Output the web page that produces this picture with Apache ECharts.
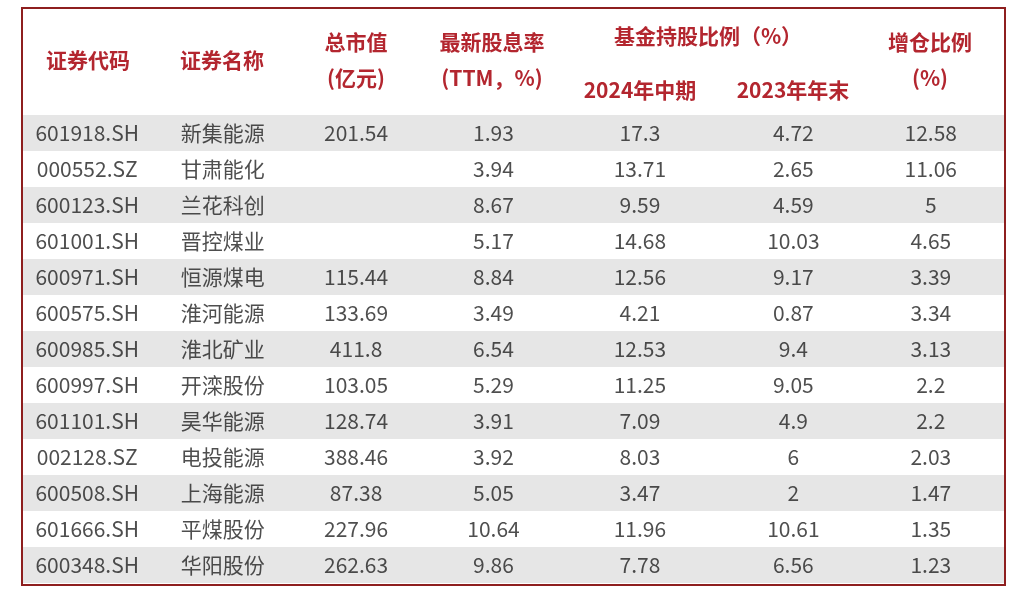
<!DOCTYPE html>
<html><head><meta charset="utf-8">
<script src="https://cdn.jsdelivr.net/npm/echarts@6/dist/echarts.min.js"></script>
<style>html,body{margin:0;background:#fff}#c{width:1020px;height:594px}</style>
</head><body><div id="c"></div>
<script>
const codes=['601918.SH','000552.SZ','600123.SH','601001.SH','600971.SH','600575.SH','600985.SH','600997.SH','601101.SH','002128.SZ','600508.SH','601666.SH','600348.SH'];
const names=['新集能源','甘肃能化','兰花科创','晋控煤业','恒源煤电','淮河能源','淮北矿业','开滦股份','昊华能源','电投能源','上海能源','平煤股份','华阳股份'];
const mktCap=['201.54','','','','115.44','133.69','411.8','103.05','128.74','388.46','87.38','227.96','262.63'];
const divYield=['1.93','3.94','8.67','5.17','8.84','3.49','6.54','5.29','3.91','3.92','5.05','10.64','9.86'];
const hold2024=['17.3','13.71','9.59','14.68','12.56','4.21','12.53','11.25','7.09','8.03','3.47','11.96','7.78'];
const hold2023=['4.72','2.65','4.59','10.03','9.17','0.87','9.4','9.05','4.9','6','2','10.61','6.56'];
const increase=['12.58','11.06','5','4.65','3.39','3.34','3.13','2.2','2.2','2.03','1.47','1.35','1.23'];
const columns=[codes,names,mktCap,divYield,hold2024,hold2023,increase];
const colKeys=['c0','c1','c2','c3','c4','c5','c6'];
const colShift=[-5,-10,-17,-20,-14,-1,-4];
const data=[];
columns.forEach((col,ci)=>col.forEach((v,ri)=>data.push({value:[colKeys[ci],ri],label:{formatter:v,offset:[colShift[ci],0]}})));
const F='"Noto Sans CJK SC", sans-serif';
const hc='#b3262f';
function ht(x,y,t){return {type:'text',x:x,y:y,style:{text:t,fill:hc,font:'bold 21px '+F,textAlign:'center',textVerticalAlign:'middle'}};}
const chart=echarts.init(document.getElementById('c'));
chart.setOption({
  backgroundColor:'#fff',
  grid:{left:22,right:15,top:115,bottom:11},
  xAxis:{type:'category',data:colKeys,show:false},
  yAxis:{type:'category',data:codes.map((_,i)=>i),inverse:true,show:true,
    axisLine:{show:false},axisTick:{show:false},axisLabel:{show:false},splitLine:{show:false},
    splitArea:{show:true,areaStyle:{color:['#e6e6e6','#ffffff']}}},
  series:[{type:'scatter',symbolSize:0,data:data,
    label:{show:true,position:'inside',color:'#222',fontSize:21,fontFamily:F}}],
  graphic:[
    {type:'rect',shape:{x:22,y:8,width:983,height:577},style:{fill:'none',stroke:'#8e1f1f',lineWidth:2},z:100},
    ht(88,60,'证券代码'),ht(222,60,'证券名称'),
    ht(356,42,'总市值'),ht(356,78,'(亿元)'),
    ht(492,42,'最新股息率'),ht(492,78,'(TTM，%)'),
    ht(708,36,'基金持股比例（%）'),
    ht(640,90,'2024年中期'),ht(793,90,'2023年年末'),
    ht(930,42,'增仓比例'),ht(930,78,'(%)')
  ]
});
</script></body></html>
